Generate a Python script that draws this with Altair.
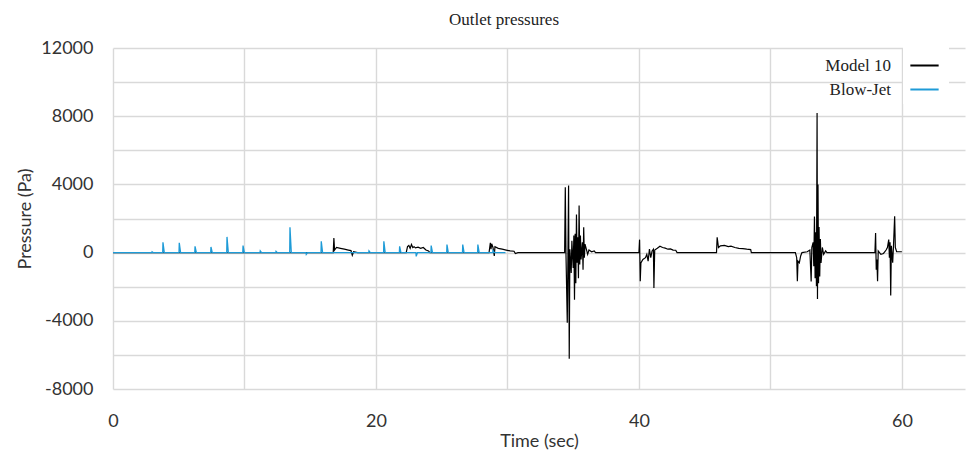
import altair as alt
import pandas as pd

# Model 10 (black) time (s) and pressure (Pa)
model_t = [0, 16.75, 16.8, 16.85, 17.0, 17.3, 17.6, 17.9, 18.1, 18.2, 18.3, 18.6,
           22.3, 22.4, 22.5, 22.6, 22.7, 22.8, 22.9, 23.0, 23.2, 23.4, 23.6, 23.8, 24.0, 24.1,
           28.6, 28.7, 28.75, 28.8, 28.9, 29.0, 29.05, 29.3, 29.6, 29.9, 30.2, 30.5, 30.6, 30.8,
           34.35, 34.4, 34.45, 34.55, 34.6, 34.65, 34.7, 34.75, 34.85, 34.9, 35.0, 35.05, 35.1,
           35.15, 35.2, 35.25, 35.3, 35.35, 35.4, 35.45, 35.5, 35.55, 35.6, 35.7, 35.75, 35.8,
           35.85, 35.9, 36.0, 36.1, 36.2, 36.4, 36.6, 36.7,
           40.0, 40.05, 40.1, 40.15, 40.3, 40.5, 40.6, 40.7, 40.8, 40.9, 41.0, 41.1, 41.14, 41.2,
           41.4, 41.6, 41.8, 42.0, 42.2, 42.4, 42.6, 42.8, 42.9,
           45.9, 45.95, 46.05, 46.2, 46.5, 46.8, 47.0, 47.3, 47.6, 47.9, 48.2, 48.5, 48.55,
           51.9, 52.0, 52.05, 52.1, 52.2, 52.3, 52.4, 52.8, 53.0, 53.1, 53.15, 53.25, 53.3, 53.35,
           53.4, 53.45, 53.5, 53.55, 53.58, 53.62, 53.66, 53.7, 53.75, 53.8, 53.85, 53.95, 54.05,
           54.2, 54.3,
           57.95, 58.0, 58.05, 58.1, 58.15, 58.2, 58.4, 58.6, 58.8, 58.9, 59.0, 59.05, 59.1, 59.15,
           59.2, 59.3, 59.35, 59.45, 59.5, 59.6, 60.0]
model_p = [0, 0, 860, 150, 300, 250, 200, 150, 120, -160, 50, 0,
           0, 350, 420, 250, 480, 300, 350, 280, 320, 250, 300, 150, 100, 0,
           0, 570, 200, 520, 300, -200, 350, 250, 200, 150, 100, 80, -60, 0,
           0, 3830, 0, -4120, -300, 3930, -6220, 200, -1200, 700, -900, 1000, -2760,
           1100, -1800, 2230, -600, 900, -1500, 2760, -700, 1000, -400, 600, -1000, 1480,
           -300, 500, 200, -100, 150, 50, 100, 0,
           0, 760, -1680, -600, -400, -300, -100, -500, 200, -300, 100, 200, -2070, 150,
           250, 370, 300, 260, 200, 220, 150, 140, 0,
           0, 900, 300, 400, 420, 350, 380, 300, 250, 230, 200, 180, 0,
           0, -300, -1680, -500, -600, -200, 0, 50, 150, -1700, 300, 600, -800, 2110,
           -1500, 1200, -1970, 8190, -2720, 3990, -1800, 1500, -1400, 800, -600, 300, -100,
           100, 0,
           0, 1150, -1000, -400, -1680, 100, -100, -50, 150, 300, 760, -300, 600, -2520,
           400, -590, 200, 2130, 300, 50, 50]

# Blow-Jet (blue) time (s) and pressure (Pa)
blow_t = [0, 2.95, 2.97, 3.05, 3.78, 3.8, 3.9, 5.02, 5.04, 5.14, 6.22, 6.24, 6.34,
          7.43, 7.45, 7.55, 8.65, 8.67, 8.77, 9.87, 9.89, 9.99, 11.18, 11.2, 11.3,
          12.38, 12.4, 12.5, 13.44, 13.46, 13.56, 14.68, 14.7, 14.8, 15.82, 15.84, 15.94,
          19.45, 19.47, 19.57, 20.58, 20.6, 20.7, 21.78, 21.8, 21.9, 23.04, 23.06, 23.16,
          24.18, 24.2, 24.3, 25.38, 25.4, 25.5, 26.58, 26.6, 26.7, 27.73, 27.75, 27.85,
          28.88, 28.9, 29.0, 29.85]
blow_p = [0, 0, 50, 0, 0, 600, 0, 0, 580, 0, 0, 370, 0,
          0, 330, 0, 0, 920, 0, 0, 410, 0, 0, 100, 0,
          0, 80, 0, 0, 1480, 0, 0, -100, 0, 0, 660, 0,
          0, 100, 0, 0, 660, 0, 0, 370, 0, 0, -220, 0,
          0, 410, 0, 0, 470, 0, 0, 470, 0, 0, 470, 0,
          0, 120, 0, 0]

series_names = ["Model 10", "Blow-Jet"]
series_colors = ["#000000", "#1E9BD7"]

y_ticks = list(range(-8000, 12001, 2000))
x_ticks = list(range(0, 61, 10))

df_model = pd.DataFrame({"t": model_t, "p": model_p, "series": "Model 10"})
df_blow = pd.DataFrame({"t": blow_t, "p": blow_p, "series": "Blow-Jet"})

color = alt.Color(
    "series:N",
    scale=alt.Scale(domain=series_names, range=series_colors),
    legend=alt.Legend(
        title=None,
        orient="none",
        legendX=790,
        legendY=-4,
        symbolType="stroke",
        symbolSize=800,
        symbolStrokeWidth=2,
        labelAlign="right",
        labelOffset=alt.ExprRef("-49"),
        labelFont="Liberation Serif",
        labelFontSize=17,
        labelColor="#222",
        rowPadding=0,
        fillColor="white",
        padding=6,
    ),
)

x = alt.X(
    "t:Q",
    title="Time (sec)",
    scale=alt.Scale(domain=[0, 64.8], nice=False),
    axis=alt.Axis(values=x_ticks, labelExpr="datum.value % 20 == 0 ? datum.label : ''",
                  ticks=False, domain=False, labelFlush=False, labelPadding=23, titlePadding=2),
)
y = alt.Y(
    "p:Q",
    title="Pressure (Pa)",
    scale=alt.Scale(domain=[-8000, 12000], nice=False),
    axis=alt.Axis(values=y_ticks, labelExpr="datum.value % 4000 == 0 ? datum.value : ''",
                  ticks=False, domain=False, labelPadding=20, titlePadding=6),
)

black = alt.Chart(df_model).mark_line(strokeWidth=1.2).encode(x=x, y=y, color=color, order="t:Q")
blue = alt.Chart(df_blow).mark_line(strokeWidth=1.3).encode(x=x, y=y, color=color, order="t:Q")

chart = (
    alt.layer(black, blue)
    .properties(
        width=852,
        height=341,
        autosize=alt.AutoSizeParams(type="none"),
        padding={"left": 113, "top": 48, "right": 2, "bottom": 65},
        title=alt.TitleParams("Outlet pressures", anchor="middle", dx=-35, offset=10),
    )
    .configure_title(font="Liberation Serif", fontSize=17, fontWeight="normal", color="#222")
    .configure_view(stroke=None)
    .configure_axis(
        gridColor="#d9d9d9",
        gridWidth=1.4,
        labelFont="Lato",
        labelFontSize=18,
        labelColor="#333",
        titleFont="Lato",
        titleFontSize=18,
        titleFontWeight="normal",
        titleColor="#333",
    )
)

chart.save("out.html", embed_options={"renderer": "svg", "actions": False})
